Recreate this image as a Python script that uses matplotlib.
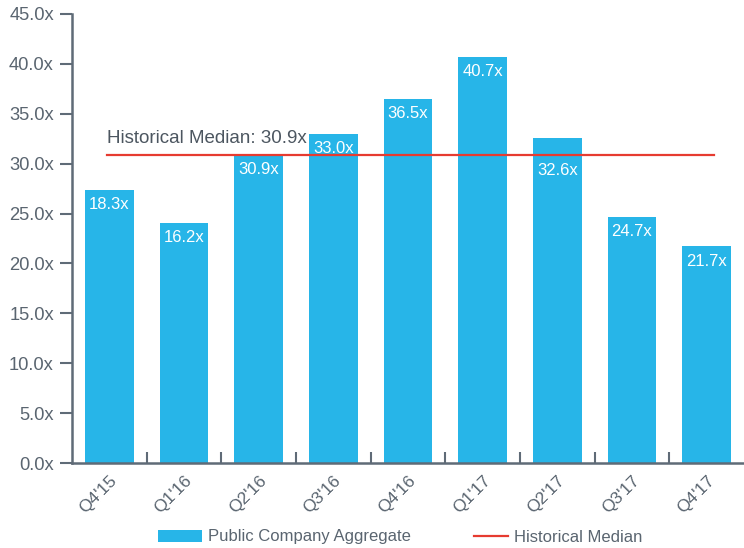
import matplotlib
matplotlib.use("Agg")
import matplotlib.pyplot as plt
from matplotlib.patches import Patch
from matplotlib.lines import Line2D
from matplotlib.legend_handler import HandlerBase
import matplotlib.transforms as mtransforms

# ---- data ----
categories = ["Q4'15", "Q1'16", "Q2'16", "Q3'16", "Q4'16", "Q1'17", "Q2'17", "Q3'17", "Q4'17"]
bar_values = [27.4, 24.1, 30.9, 33.0, 36.5, 40.7, 32.6, 24.7, 21.7]
bar_labels = ["18.3x", "16.2x", "30.9x", "33.0x", "36.5x", "40.7x", "32.6x", "24.7x", "21.7x"]
median_value = 30.9
median_label = "Historical Median: 30.9x"
y_ticks = [0, 5, 10, 15, 20, 25, 30, 35, 40, 45]
series_names = ["Public Company Aggregate", "Historical Median"]

BAR = "#27b5e8"
RED = "#e63b30"
AXC = "#5f6b77"
TXT = "#5a6570"

plt.rcParams['font.family'] = ['Liberation Sans', 'DejaVu Sans']


class ShortLineHandler(HandlerBase):
    """Legend line drawn only over the right part of the handle box."""
    def create_artists(self, legend, orig_handle, xdescent, ydescent, width, height,
                       fontsize, trans):
        y = -ydescent + height / 2.0
        ln = Line2D([-xdescent + width * 0.23, -xdescent + width], [y, y],
                    color=orig_handle.get_color(), lw=orig_handle.get_linewidth())
        ln.set_transform(trans)
        return [ln]


fig = plt.figure(figsize=(7.44, 5.48), dpi=100)
ax = fig.add_axes([72/744, 1-463/548, 1-72/744, (463-14)/548])

x = list(range(len(categories)))
ax.bar(x, bar_values, width=0.65, color=BAR, zorder=2)

# bar value labels (white, inside top of bar)
for i, (v, lab) in enumerate(zip(bar_values, bar_labels)):
    ypos = v - 1.5
    if median_value + 1.0 < v < median_value + 2.0:
        # bar top just above median line: put label below the line
        ypos = median_value - 1.6
    ax.text(i, ypos, lab, color="white", fontsize=12, ha="center", va="center", zorder=4)

# median line
ax.plot([-0.03, 8.1], [median_value, median_value], color=RED, lw=1.6, zorder=3)
ax.text(-0.03, median_value + 0.75, median_label, color="#4c5660", fontsize=13.5,
        ha="left", va="bottom", zorder=4)

ax.set_xlim(-0.5, 8.5)
ax.set_ylim(0, 45)
ax.set_yticks(y_ticks)
ax.set_yticklabels([f"{t:.1f}x" for t in y_ticks])

ax.set_xticks(x)
ax.set_xticklabels(categories, rotation=45, ha="right", rotation_mode="anchor")
ax.set_xticks([i + 0.5 for i in range(len(categories) - 1)], minor=True)

ax.tick_params(axis="x", which="major", length=0, pad=7, labelsize=12.5, labelcolor=TXT)
ax.tick_params(axis="x", which="minor", direction="in", length=8, width=1.5, color=AXC)
ax.tick_params(axis="y", which="major", direction="out", length=9, width=1.5, color=AXC,
               labelsize=13.2, labelcolor=TXT, pad=4)

offset = mtransforms.ScaledTranslation(0/100, 0, fig.dpi_scale_trans)
for lab in ax.get_xticklabels():
    lab.set_transform(lab.get_transform() + offset)

for s in ["top", "right"]:
    ax.spines[s].set_visible(False)
for s in ["left", "bottom"]:
    ax.spines[s].set_color(AXC)
    ax.spines[s].set_linewidth(1.8)

red_handle = Line2D([0], [0], color=RED, lw=1.6)
handles = [Patch(facecolor=BAR, edgecolor="none"), red_handle]
leg = fig.legend(handles, series_names, loc="center", bbox_to_anchor=(400.5/744, 1-537/548),
                 ncol=2, frameon=False, fontsize=12, handlelength=2.6, handleheight=0.75,
                 handletextpad=0.4, columnspacing=3.2, labelcolor=TXT,
                 handler_map={Line2D: ShortLineHandler()})

fig.savefig("out.png", dpi=100)
